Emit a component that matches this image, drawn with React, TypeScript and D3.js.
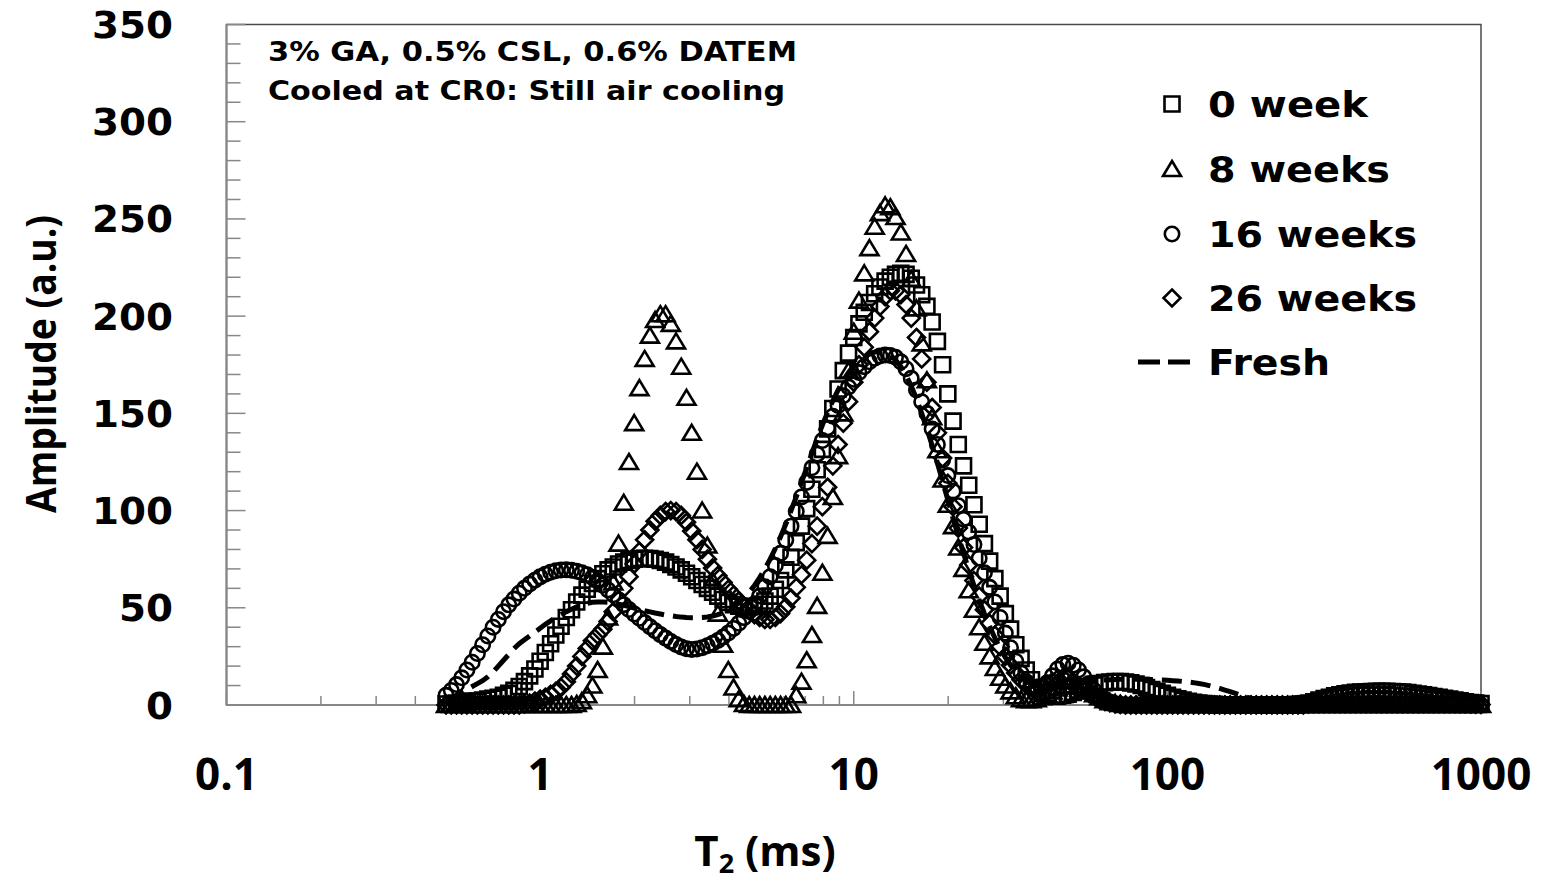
import React, { useEffect } from 'react';
import * as d3 from 'd3';

// ---- Data ----
// Relaxation-time grid (ms), log-spaced sampling of the T2 distribution
const T2_MS = [
  0.5012, 0.5208, 0.5412, 0.5623, 0.5843, 0.6072, 0.631, 0.6556, 0.6813, 0.7079, 0.7356, 0.7644, 0.7943, 0.8254, 0.8577, 0.8913, 0.9261, 0.9624,
  1, 1.039, 1.08, 1.122, 1.166, 1.212, 1.259, 1.308, 1.359, 1.413, 1.468, 1.525, 1.585, 1.647, 1.711, 1.778, 1.848, 1.92, 1.995, 2.073,
  2.154, 2.239, 2.326, 2.417, 2.512, 2.61, 2.712, 2.818, 2.929, 3.043, 3.162, 3.286, 3.415, 3.548, 3.687, 3.831, 3.981, 4.137, 4.299, 4.467,
  4.642, 4.823, 5.012, 5.208, 5.412, 5.623, 5.843, 6.072, 6.31, 6.556, 6.813, 7.079, 7.356, 7.644, 7.943, 8.254, 8.577, 8.913, 9.261, 9.624,
  10, 10.39, 10.8, 11.22, 11.66, 12.12, 12.59, 13.08, 13.59, 14.13, 14.68, 15.25, 15.85, 16.47, 17.11, 17.78, 18.48, 19.2, 19.95, 20.73,
  21.54, 22.39, 23.26, 24.17, 25.12, 26.1, 27.12, 28.18, 29.29, 30.43, 31.62, 32.86, 34.15, 35.48, 36.87, 38.31, 39.81, 41.37, 42.99, 44.67,
  46.42, 48.23, 50.12, 52.08, 54.12, 56.23, 58.43, 60.72, 63.1, 65.56, 68.13, 70.79, 73.56, 76.44, 79.43, 82.54, 85.77, 89.13, 92.61, 96.24,
  100, 103.9, 108, 112.2, 116.6, 121.2, 125.9, 130.8, 135.9, 141.3, 146.8, 152.5, 158.5, 164.7, 171.1, 177.8, 184.8, 192, 199.5, 207.3,
  215.4, 223.9, 232.6, 241.7, 251.2, 261, 271.2, 281.8, 292.9, 304.3, 316.2, 328.6, 341.5, 354.8, 368.7, 383.1, 398.1, 413.7, 429.9, 446.7,
  464.2, 482.3, 501.2, 520.8, 541.2, 562.3, 584.3, 607.2, 631, 655.6, 681.3, 707.9, 735.6, 764.4, 794.3, 825.4, 857.7, 891.3, 926.1, 962.4,
  1000,
];

const AMP_0_WEEK = [
  0.5, 0.5, 1, 1, 1.5, 2, 2, 2.5, 3, 3.5,
  4, 5, 6, 7.5, 9.5, 12, 15, 18.5, 22.5, 27,
  31.5, 36, 40.5, 45, 49, 53, 56.5, 59.5, 62.5, 65,
  67.5, 69.5, 71, 72.5, 73.5, 74.3, 75, 75.3, 75.5, 75.3,
  75, 74.3, 73.5, 72.3, 71, 69.5, 67.8, 66, 64, 62,
  60, 58, 56, 54.3, 52.8, 51.6, 50.8, 50.4, 50.4, 50.8,
  51.8, 53.5, 56, 59.5, 64, 69.5, 76, 83.5, 92, 101,
  111, 121, 131.5, 142, 152.5, 162.5, 172, 181, 189, 196,
  202, 207, 211.5, 215, 218, 220, 221.5, 222, 221.5, 219.5,
  216, 211, 205, 197, 187, 175, 160, 146, 134, 123,
  113, 103, 93, 83, 74, 65, 56, 47, 39, 31,
  24, 18, 13, 9, 6.5, 5, 4.5, 4.5, 5, 5.5,
  6.5, 7.5, 8.5, 9.5, 10.3, 11, 11.5, 11.8, 12, 12,
  11.8, 11.4, 10.8, 10, 9, 8, 7, 6, 5, 4,
  3.2, 2.5, 1.9, 1.4, 1, 0.7, 0.5, 0.3, 0, 0,
  0, 0, 0, 0, 0, 0, 0, 0, 0, 0,
  0, 0, 0, 0.3, 0.6, 1, 1.7, 2.5, 3.3, 4,
  4.7, 5.3, 5.8, 6.2, 6.5, 6.7, 6.8, 6.9, 7, 7,
  7, 6.9, 6.8, 6.6, 6.4, 6, 5.6, 5.2, 4.8, 4.3,
  3.9, 3.4, 3, 2.5, 2.1, 1.7, 1.3, 1, 0.7,
];

const AMP_8_WEEKS = [
  0, 0, 0, 0, 0, 0, 0, 0, 0, 0,
  0, 0, 0, 0, 0, 0, 0, 0, 0, 0,
  0, 0, 0, 0, 0, 0.5, 2, 5, 10, 18,
  30, 45, 63, 83, 104, 125, 145, 163, 178, 190,
  198, 201, 201, 196, 187, 174, 158, 140, 120, 100,
  82, 64, 47, 31, 18, 9, 3, 0.5, 0, 0,
  0, 0, 0, 0, 0, 0, 0, 5, 12, 23,
  36, 51, 68, 87, 107, 128, 150, 172, 192, 208,
  222, 235, 246, 253, 257, 256, 251, 243, 232, 219,
  204, 186, 167, 148, 131, 116, 103, 92, 81, 70,
  59, 49, 40, 32, 25, 19, 14, 10, 7, 4.5,
  3, 2.5, 2.5, 3, 4, 5.5, 7, 8.5, 9.5, 10,
  10, 9.5, 8.5, 7, 5.5, 4, 2.5, 1.5, 1, 0.5,
  0, 0, 0, 0, 0, 0, 0, 0, 0, 0,
  0, 0, 0, 0, 0, 0, 0, 0, 0, 0,
  0, 0, 0, 0, 0, 0, 0, 0, 0, 0,
  0, 0, 0, 0, 0, 0, 0, 0, 0, 0,
  0, 0, 0, 0, 0, 0, 0, 0, 0, 0,
  0, 0, 0, 0, 0, 0, 0, 0, 0, 0,
  0, 0, 0, 0, 0, 0, 0, 0, 0,
];

const AMP_16_WEEKS = [
  5, 7.5, 10.5, 14, 18, 22, 26.5, 31, 35.5, 40,
  44, 48, 51.5, 54.5, 57.5, 60, 62.2, 64.2, 65.9, 67.3,
  68.3, 69, 69.4, 69.5, 69.3, 68.8, 68, 67, 65.6, 63.8,
  61.6, 59.2, 56.7, 54.1, 51.6, 49.1, 46.8, 44.6, 42.4, 40.3,
  38.2, 36.2, 34.4, 32.7, 31.1, 29.8, 28.9, 28.6, 28.8, 29.5,
  30.5, 31.7, 33.2, 35, 37, 39.4, 42, 44.9, 48.2, 52,
  56, 60.8, 66, 71.8, 78, 84.8, 92, 99.5, 107, 114.5,
  122, 129, 136, 142.5, 148.5, 154, 159, 163.5, 167.5, 171,
  174, 176.5, 178.3, 179.5, 180, 179.8, 178.8, 176.5, 173, 168,
  162, 156, 150, 142, 134, 126, 118, 110, 102.5, 95.5,
  89, 82.5, 75.5, 68, 60.5, 53, 45, 37, 29.5, 22.5,
  16.5, 12, 9, 8, 9, 11.5, 15, 18.5, 20.8, 21.5,
  20.5, 18, 14.5, 11, 7.5, 4.8, 2.8, 1.5, 0.7, 0.3,
  0, 0, 0, 0, 0, 0, 0, 0, 0, 0,
  0, 0, 0, 0, 0, 0, 0, 0, 0, 0,
  0, 0, 0, 0, 0, 0, 0, 0, 0, 0,
  0, 0, 0, 0, 0, 0, 0, 0, 0, 0,
  0, 0, 0, 0, 0, 0, 0, 0, 0, 0,
  0, 0, 0, 0, 0, 0, 0, 0, 0, 0,
  0, 0, 0, 0, 0, 0, 0, 0, 0,
];

const AMP_26_WEEKS = [
  0, 0, 0, 0, 0, 0, 0, 0, 0, 0,
  0, 0, 0, 0, 0, 0.5, 1, 2, 3, 4,
  5.5, 7, 9, 12, 16, 20, 25, 29, 33, 36,
  39, 43, 48, 54, 60, 66, 72.5, 79, 85, 90,
  94.5, 97.5, 99.5, 100, 99.5, 97.5, 94, 89.5, 85, 80,
  75, 70.5, 66.5, 63, 59.5, 56.5, 53.5, 51, 48.5, 46.5,
  45, 44, 44, 45, 47, 50.5, 55, 60.5, 67, 74.5,
  83, 92, 102, 112, 123, 134, 145, 156, 166, 175,
  184, 192, 199, 205, 210, 213, 213, 211, 206, 199,
  189, 178, 166, 153, 140, 127, 114, 102, 91, 81,
  72, 64, 56, 49, 42, 36, 30, 25, 20.5, 16.5,
  13, 10.5, 9, 8.5, 9, 10.5, 12, 13.5, 14, 13.5,
  12, 10, 8, 6, 4.5, 3, 2, 1.2, 0.6, 0.3,
  0, 0, 0, 0, 0, 0, 0, 0, 0, 0,
  0, 0, 0, 0, 0, 0, 0, 0, 0, 0,
  0, 0, 0, 0, 0, 0, 0, 0, 0, 0,
  0, 0, 0, 0, 0, 0.5, 1, 1.5, 2, 2.5,
  3, 3.5, 4, 4.3, 4.6, 4.8, 4.9, 5, 5, 5,
  4.9, 4.8, 4.6, 4.4, 4.1, 3.8, 3.5, 3.2, 2.8, 2.5,
  2.2, 1.9, 1.6, 1.3, 1, 0.8, 0.6, 0.4, 0.3,
];

const AMP_FRESH = [
  2, 3.5, 5, 6.5, 8, 9.5, 11, 12.5, 14.5, 17,
  20, 23, 26, 29, 31.5, 33.5, 35.5, 37.5, 39.5, 41.5,
  43.3, 45, 46.5, 48, 49.3, 50.5, 51.5, 52.3, 52.8, 53,
  53, 52.8, 52.4, 51.9, 51.3, 50.6, 49.9, 49.2, 48.5, 47.9,
  47.3, 46.8, 46.3, 45.9, 45.5, 45.2, 45, 44.9, 44.9, 45,
  45.3, 45.8, 46.5, 47.5, 48.8, 50.5, 52.5, 55, 58, 61.5,
  65.5, 70, 75, 80.5, 86.5, 93, 100, 107, 114.5, 122,
  129.5, 137, 144, 150.5, 156.5, 162, 167, 171, 174.5, 177,
  179, 180.5, 181.5, 182, 181.5, 180, 177.5, 174, 169.5, 164,
  157.5, 150, 142, 133.5, 124.5, 115, 105.5, 96, 87, 78,
  69.5, 61.5, 54, 47, 40.5, 34.5, 29, 24.5, 20.5, 17.5,
  15, 13, 11.5, 10.7, 10.3, 10.2, 10.3, 10.5, 10.8, 11.1,
  11.4, 11.7, 12, 12.3, 12.5, 12.7, 12.9, 13, 13.1, 13.2,
  13.3, 13.3, 13.3, 13.3, 13.2, 13.1, 13, 12.9, 12.7, 12.5,
  12.3, 12.1, 11.8, 11.5, 11.1, 10.6, 10, 9.3, 8.5, 7.7,
  6.9, 6, 5.1, 4.2, 3.4, 2.6, 1.9, 1.3, 0.8, 0.4,
  0.2, 0, 0, 0, 0, 0, 0, 0, 0, 0,
  0, 0, 0, 0, 0, 0, 0, 0, 0, 0,
  0, 0, 0, 0, 0, 0, 0, 0, 0, 0,
  0, 0, 0, 0, 0, 0, 0, 0, 0,
];

const SERIES_NAMES = ['0 week', '8 weeks', '16 weeks', '26 weeks', 'Fresh'];
const Y_TICKS = [0, 50, 100, 150, 200, 250, 300, 350];
const X_TICKS = [0.1, 1, 10, 100, 1000];
const X_TICK_LABELS = ['0.1', '1', '10', '100', '1000'];
const ANNOTATION = ['3% GA, 0.5% CSL, 0.6% DATEM', 'Cooled at CR0: Still air cooling'];

// ---- Drawing ----
const W = 1550;
const H = 886;
const PLOT = { left: 226.5, right: 1481, top: 24.5, bottom: 705 };
const MARK_STROKE = 2.6;

const MARKERS: Record<string, string> = {
  square: 'M-7.5,-7.5H7.5V7.5H-7.5Z',
  triangle: 'M0,-8L9,7L-9,7Z',
  diamond: 'M0,-8.5L8.5,0L0,8.5L-8.5,0Z',
};

function Marker({ type, x, y }: { type: string; x: number; y: number }) {
  if (type === 'circle') {
    return <circle cx={x} cy={y} r={7.2} fill="none" stroke="#000" strokeWidth={MARK_STROKE} />;
  }
  return (
    <path d={MARKERS[type]} transform={`translate(${x},${y})`} fill="none" stroke="#000" strokeWidth={MARK_STROKE} strokeLinejoin="miter" />
  );
}

export default function App() {
  useEffect(() => {
    document.body.style.margin = '0';
  }, []);

  const x = d3.scaleLog().domain([0.1, 1000]).range([PLOT.left, PLOT.right]);
  const y = d3.scaleLinear().domain([0, 350]).range([PLOT.bottom, PLOT.top]);

  const markerSeries = [
    { values: AMP_0_WEEK, marker: 'square' },
    { values: AMP_8_WEEKS, marker: 'triangle' },
    { values: AMP_16_WEEKS, marker: 'circle' },
    { values: AMP_26_WEEKS, marker: 'diamond' },
  ];

  const freshLine = d3
    .line<number>()
    .x((_, i) => x(T2_MS[i]))
    .y((d) => y(d))(AMP_FRESH) as string;

  const yMinor = d3.range(0, 351, 10).filter((v) => v % 50 !== 0);
  const xMinor: number[] = [];
  [0.1, 1, 10, 100].forEach((dec) => {
    for (let k = 2; k <= 9; k++) xMinor.push(dec * k);
  });

  const axisColor = '#878787';
  const sans = 'DejaVu Sans';
  const open = 'Open Sans';

  const legendY = [104, 169, 234, 298, 362];
  const legendWidths = [160, 182, 209, 209, 122];
  const legendMarkers = ['square', 'triangle', 'circle', 'diamond'];

  return (
    <svg width={W} height={H} viewBox={`0 0 ${W} ${H}`} style={{ position: 'absolute', left: 0, top: 0, background: '#fff' }}>
      <rect x={0} y={0} width={W} height={H} fill="#fff" />

      {/* plot border */}
      <rect
        x={PLOT.left}
        y={PLOT.top}
        width={PLOT.right - PLOT.left}
        height={PLOT.bottom - PLOT.top}
        fill="none"
        stroke="#4a4a4a"
        strokeWidth={1.5}
      />
      {/* axes */}
      <line x1={PLOT.left} x2={PLOT.left} y1={PLOT.top} y2={PLOT.bottom} stroke={axisColor} strokeWidth={2} />
      <line x1={PLOT.left} x2={PLOT.right} y1={PLOT.bottom} y2={PLOT.bottom} stroke={axisColor} strokeWidth={2} />

      {/* y ticks */}
      {Y_TICKS.map((v) => (
        <line key={`ym${v}`} x1={PLOT.left} x2={PLOT.left + 19} y1={y(v)} y2={y(v)} stroke={axisColor} strokeWidth={1.5} />
      ))}
      {yMinor.map((v) => (
        <line key={`yn${v}`} x1={PLOT.left} x2={PLOT.left + 14} y1={y(v)} y2={y(v)} stroke={axisColor} strokeWidth={1.5} />
      ))}
      {/* x ticks */}
      {X_TICKS.map((v) => (
        <line key={`xm${v}`} x1={x(v)} x2={x(v)} y1={PLOT.bottom} y2={PLOT.bottom - 14} stroke={axisColor} strokeWidth={1.5} />
      ))}
      {xMinor.map((v) => (
        <line key={`xn${v}`} x1={x(v)} x2={x(v)} y1={PLOT.bottom} y2={PLOT.bottom - 9} stroke={axisColor} strokeWidth={1.5} />
      ))}

      {/* y tick labels */}
      {Y_TICKS.map((v) => (
        <text
          key={`yl${v}`}
          x={173}
          y={y(v) + 13.5}
          textAnchor="end"
          fontFamily={sans}
          fontWeight="bold"
          fontSize={37}
          fill="#000"
          textLength={String(v).length * 27}
          lengthAdjust="spacingAndGlyphs"
        >
          {v}
        </text>
      ))}
      {/* x tick labels */}
      {X_TICKS.map((v, i) => (
        <text key={`xl${v}`} x={x(v)} y={790} textAnchor="middle" fontFamily={open} fontWeight={700} fontSize={44} fill="#000">
          {X_TICK_LABELS[i]}
        </text>
      ))}

      {/* axis titles */}
      <text x={765} y={866} textAnchor="middle" fontFamily={open} fontWeight={700} fontSize={42} fill="#000">
        T<tspan fontSize={27} dy={7}>2</tspan>
        <tspan dy={-7}> (ms)</tspan>
      </text>
      <text
        transform="translate(56,364) rotate(-90)"
        textAnchor="middle"
        fontFamily={open}
        fontWeight={700}
        fontSize={42}
        fill="#000"
        textLength={298}
        lengthAdjust="spacingAndGlyphs"
      >
        Amplitude (a.u.)
      </text>

      {/* annotation */}
      <text x={268} y={61} fontFamily={sans} fontWeight="bold" fontSize={27} fill="#000" textLength={529} lengthAdjust="spacingAndGlyphs">
        {ANNOTATION[0]}
      </text>
      <text x={268} y={100} fontFamily={sans} fontWeight="bold" fontSize={27} fill="#000" textLength={517} lengthAdjust="spacingAndGlyphs">
        {ANNOTATION[1]}
      </text>

      {/* marker series */}
      {markerSeries.map((s, si) => (
        <g key={`s${si}`}>
          {s.values.map((v, i) => (
            <Marker key={i} type={s.marker} x={x(T2_MS[i])} y={y(v)} />
          ))}
        </g>
      ))}

      {/* Fresh dashed line */}
      <path d={freshLine} fill="none" stroke="#000" strokeWidth={5} strokeDasharray="20 9" />

      {/* legend */}
      {SERIES_NAMES.map((name, i) => (
        <g key={`lg${i}`}>
          {i < 4 ? (
            <Marker type={legendMarkers[i]} x={1172} y={legendY[i]} />
          ) : (
            <line x1={1138} x2={1193} y1={legendY[i]} y2={legendY[i]} stroke="#000" strokeWidth={5} strokeDasharray="22 8" />
          )}
          <text
            x={1208}
            y={legendY[i] + 13}
            fontFamily={sans}
            fontWeight="bold"
            fontSize={36}
            fill="#000"
            textLength={legendWidths[i]}
            lengthAdjust="spacingAndGlyphs"
          >
            {name}
          </text>
        </g>
      ))}
    </svg>
  );
}
